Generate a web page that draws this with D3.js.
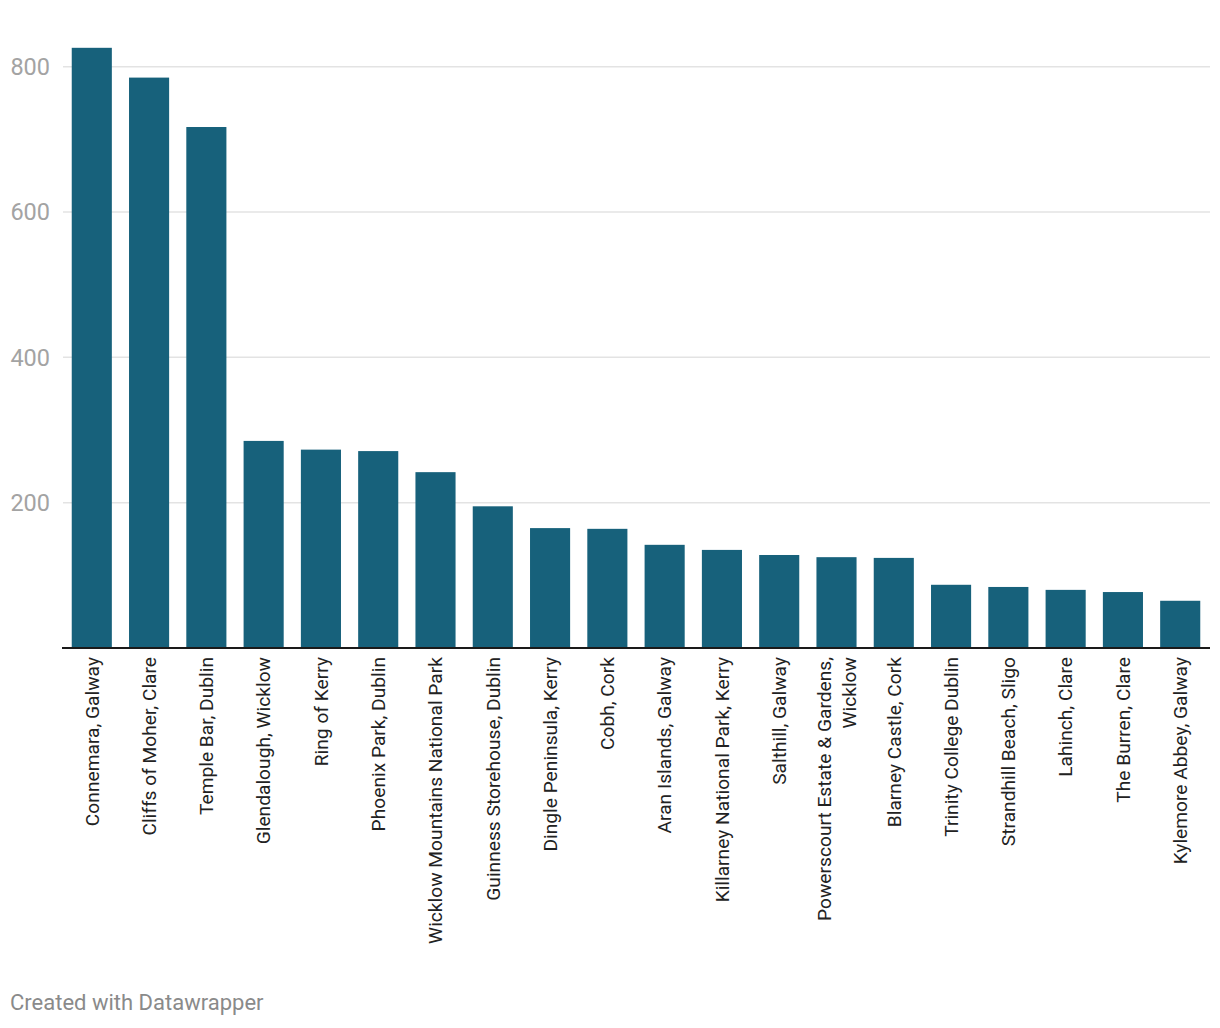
<!DOCTYPE html>
<html>
<head>
<meta charset="utf-8">
<script src="https://cdn.jsdelivr.net/npm/d3@7"></script>
<style>
  html, body { margin: 0; padding: 0; background: #fff; }
  svg { display: block; font-family: Roboto, "Noto Sans", sans-serif; }
</style>
</head>
<body>
<svg id="chart" width="1220" height="1028"></svg>
<script>
const categories = [
  "Connemara, Galway", "Cliffs of Moher, Clare", "Temple Bar, Dublin",
  "Glendalough, Wicklow", "Ring of Kerry", "Phoenix Park, Dublin",
  "Wicklow Mountains National Park", "Guinness Storehouse, Dublin",
  "Dingle Peninsula, Kerry", "Cobh, Cork", "Aran Islands, Galway",
  "Killarney National Park, Kerry", "Salthill, Galway",
  "Powerscourt Estate & Gardens, Wicklow", "Blarney Castle, Cork",
  "Trinity College Dublin", "Strandhill Beach, Sligo", "Lahinch, Clare",
  "The Burren, Clare", "Kylemore Abbey, Galway"
];
const values = [826, 785, 717, 285, 273, 271, 242, 195, 165, 164, 142, 135, 128, 125, 124, 87, 84, 80, 77, 65];
const yTicks = [200, 400, 600, 800];
const footerText = "Created with Datawrapper";

const svg = d3.select("#chart");
const data = categories.map((c, i) => ({ name: c, value: values[i] }));

const x = d3.scaleBand().domain(categories).range([62, 1210]).paddingInner(0.3).paddingOuter(0.17);
const y = d3.scaleLinear().domain([0, 800]).range([648, 66.7]);

// gridlines
svg.append("g").selectAll("line").data(yTicks).join("line")
  .attr("x1", 63).attr("x2", 1210)
  .attr("y1", d => y(d)).attr("y2", d => y(d))
  .attr("stroke", "#e3e3e3").attr("stroke-width", 1.5);

// y labels
svg.append("g").selectAll("text").data(yTicks).join("text")
  .attr("x", 50).attr("y", d => y(d)).attr("dy", "0.35em")
  .attr("text-anchor", "end")
  .attr("fill", "#a3a3a3").attr("font-size", 23.5)
  .text(d => d);

// bars
svg.append("g").selectAll("rect").data(data).join("rect")
  .attr("x", d => x(d.name)).attr("width", x.bandwidth())
  .attr("y", d => y(d.value)).attr("height", d => y(0) - y(d.value))
  .attr("fill", "#17617b");

// baseline
svg.append("line").attr("x1", 62).attr("x2", 1210)
  .attr("y1", y(0)).attr("y2", y(0))
  .attr("stroke", "#1a1a1a").attr("stroke-width", 2);

// category labels
const maxW = 310, lineH = 25;
const lg = svg.append("g");
data.forEach(d => {
  const cx = x(d.name) + x.bandwidth() / 2;
  const t = lg.append("text")
    .attr("transform", `translate(${cx},657) rotate(-90)`)
    .attr("text-anchor", "end")
    .attr("fill", "#222").attr("font-size", 19.2);
  const words = d.name.split(" ");
  let lines = [], cur = [];
  const tmp = t.append("tspan");
  words.forEach(w => {
    cur.push(w);
    tmp.text(cur.join(" "));
    if (tmp.node().getComputedTextLength() > maxW && cur.length > 1) {
      cur.pop(); lines.push(cur.join(" ")); cur = [w];
    }
  });
  lines.push(cur.join(" "));
  tmp.remove();
  const off = -(lines.length - 1) * lineH / 2;
  lines.forEach((l, i) => {
    t.append("tspan").attr("x", 0).attr("y", off + i * lineH).attr("dy", "0.35em").text(l);
  });
});

// footer
svg.append("text").attr("x", 10).attr("y", 1010)
  .attr("fill", "#8a8a8a").attr("font-size", 22)
  .text(footerText);
</script>
</body>
</html>
